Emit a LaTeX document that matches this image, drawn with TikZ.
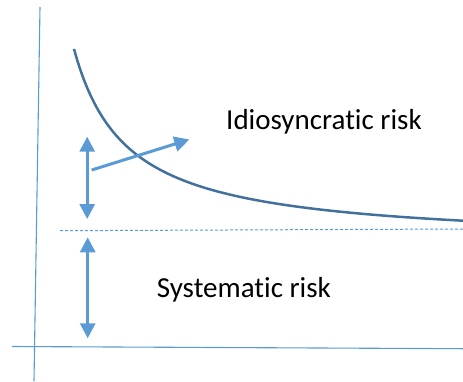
\documentclass[tikz,border=0pt]{standalone}
\usepackage{fontspec}
\setmainfont[Ligatures=NoCommon]{Carlito}
\usetikzlibrary{arrows.meta}
\definecolor{axisblue}{HTML}{5B9BD5}
\definecolor{curveblue}{HTML}{41719C}
\tikzset{
  axisline/.style={draw=axisblue, line width=1.1pt},
  dashline/.style={draw=axisblue, line width=1pt, dash pattern=on 3pt off 2pt},
  riskarrow/.style={draw=axisblue, line width=3pt, arrows={-Triangle[length=15pt,width=15pt]}},
  riskdouble/.style={draw=axisblue, line width=3pt, arrows={Triangle[length=15pt,width=15pt]-Triangle[length=15pt,width=15pt]}},
  curveline/.style={draw=curveblue, line width=2.5pt},
  lbl/.style={inner sep=0pt, anchor=base west, font=\fontsize{29}{34}\selectfont}
}
\begin{document}
\begin{tikzpicture}[x=1pt,y=-1pt]
\useasboundingbox (0,0) rectangle (463,381);
% axes
\coordinate (yt) at (40,7);
\coordinate (yb) at (34,381);
\coordinate (xl) at (12,346.5);
\coordinate (xr) at (463,348.7);
\draw[axisline] (yt) -- (yb);
\draw[axisline] (xl) -- (xr);
% dashed level
\coordinate (dl) at (60,230.7);
\coordinate (dr) at (463,229);
\draw[dashline] (dl) -- (dr);
% curve
\draw[curveline] plot[domain=74:463, samples=120, smooth] ({\x},{244.1-10344/(\x-21)});
% arrows
\coordinate (ua) at (87.2,136.7);
\coordinate (ub) at (87.2,219);
\coordinate (la) at (87.7,237.3);
\coordinate (lb) at (87.7,338.3);
\coordinate (ds) at (91.7,170);
\coordinate (de) at (189.3,139.5);
\draw[riskdouble] (ua) -- (ub);
\draw[riskdouble] (la) -- (lb);
\draw[riskarrow] (ds) -- (de);
% labels
\node[lbl] (idio) at (226,129.3) {Idiosyncratic risk};
\node[lbl] (sys) at (156.7,297.7) {Systematic risk};
\end{tikzpicture}
\end{document}
